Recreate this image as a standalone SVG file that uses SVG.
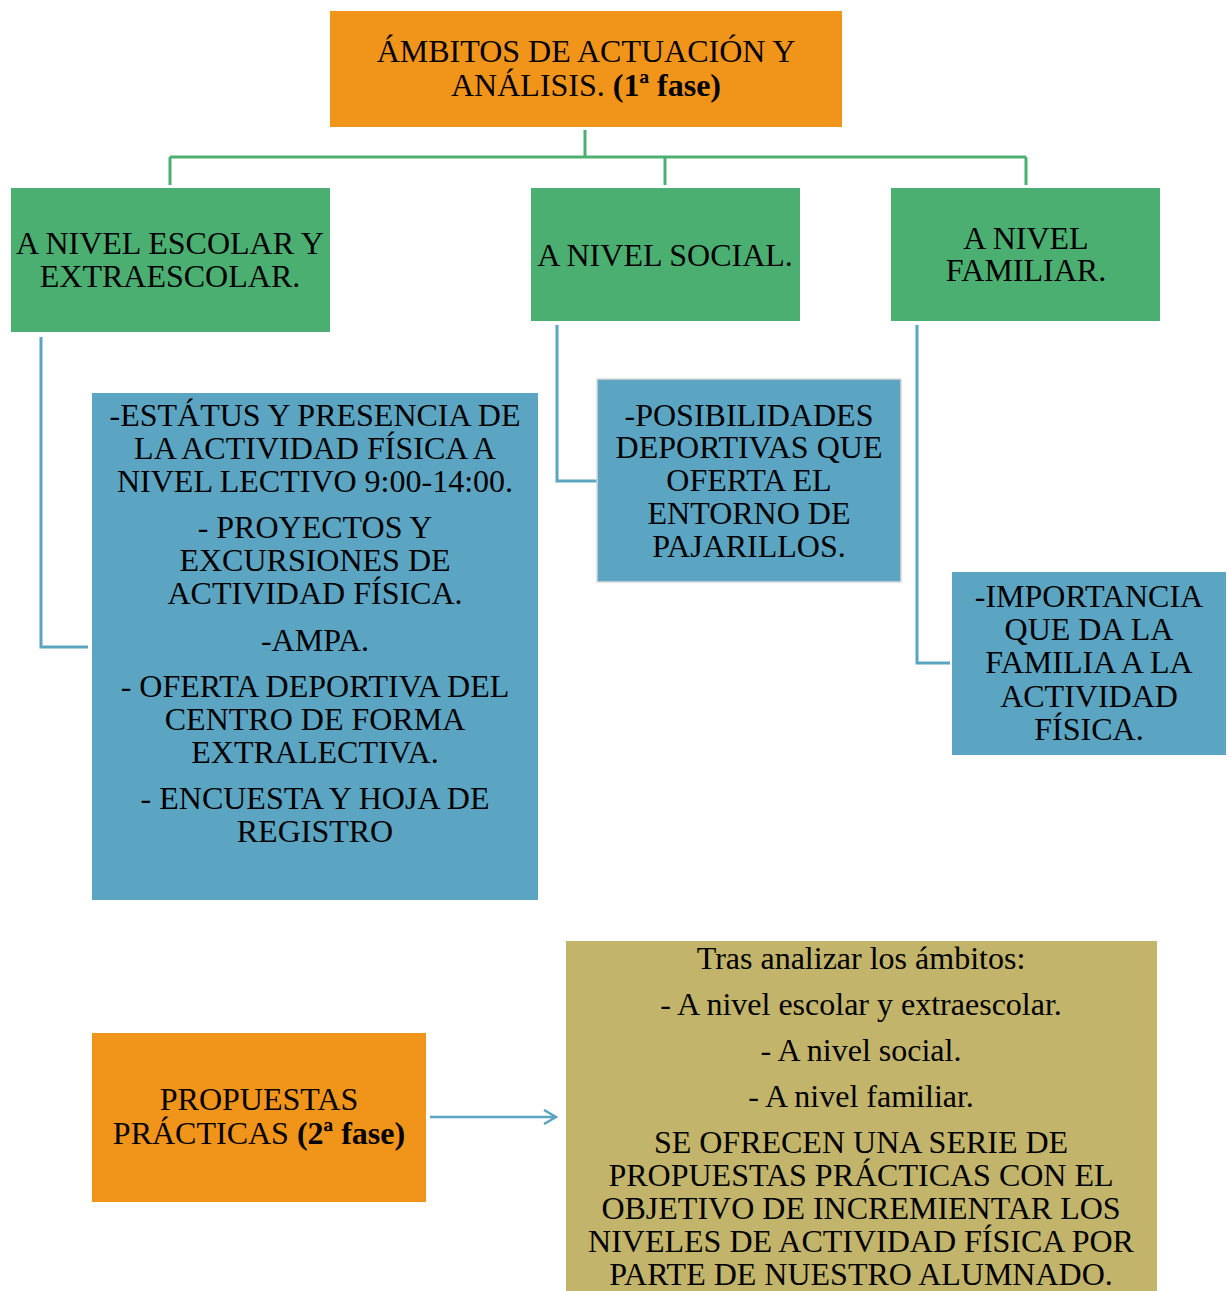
<svg xmlns="http://www.w3.org/2000/svg" width="1229" height="1291" viewBox="0 0 1229 1291">
<defs>
<style>
text{font-family:"Liberation Serif","Times New Roman",serif;font-size:32px;fill:#000;text-anchor:middle}
.b{font-weight:bold}
.orange{fill:#F0941A}
.green{fill:#4CAF72}
.blue{fill:#5BA5C2}
.gold{fill:#C2B46A}
.gl{stroke:#4CAF72;stroke-width:3;fill:none}
.bl{stroke:#5BA5C2;stroke-width:3;fill:none}
</style>
<marker id="arr" markerWidth="16" markerHeight="16" refX="14" refY="8" orient="auto" markerUnits="userSpaceOnUse">
<path d="M2,1 L14,8 L2,15" fill="none" stroke="#5BA5C2" stroke-width="2.5"/>
</marker>
</defs>
<rect width="1229" height="1291" fill="#fff"/>
<g id="connectors">
<path class="gl" d="M585,130 V157 M170,157 H1026 M170,157 V185 M665,157 V185 M1026,157 V185"/>
<path class="bl" d="M41,337 V647 H88"/>
<path class="bl" d="M557,325 V481 H597"/>
<path class="bl" d="M917,325 V663 H950"/>
<line x1="430" y1="1117" x2="556" y2="1117" stroke="#5BA5C2" stroke-width="2.5" marker-end="url(#arr)"/>
</g>
<g id="n-ambitos">
<rect class="orange" x="330" y="11" width="512" height="116"/>
<text x="586" y="62">ÁMBITOS DE ACTUACIÓN Y</text>
<text x="586" y="96">ANÁLISIS. <tspan class="b">(1ª fase)</tspan></text>
</g>
<g id="n-escolar">
<rect class="green" x="11" y="188" width="319" height="144"/>
<text x="170" y="254">A NIVEL ESCOLAR Y</text>
<text x="170" y="287">EXTRAESCOLAR.</text>
</g>
<g id="n-social">
<rect class="green" x="531" y="188" width="269" height="133"/>
<text x="665" y="266">A NIVEL SOCIAL.</text>
</g>
<g id="n-familiar">
<rect class="green" x="891" y="188" width="269" height="133"/>
<text x="1026" y="249">A NIVEL</text>
<text x="1026" y="281">FAMILIAR.</text>
</g>
<g id="n-escolar-det">
<rect class="blue" x="92" y="393" width="446" height="507"/>
<text x="315" y="426">-ESTÁTUS Y PRESENCIA DE</text>
<text x="315" y="459">LA ACTIVIDAD FÍSICA A</text>
<text x="315" y="492">NIVEL LECTIVO 9:00-14:00.</text>
<text x="315" y="538">- PROYECTOS Y</text>
<text x="315" y="571">EXCURSIONES DE</text>
<text x="315" y="604">ACTIVIDAD FÍSICA.</text>
<text x="315" y="651">-AMPA.</text>
<text x="315" y="697">- OFERTA DEPORTIVA DEL</text>
<text x="315" y="730">CENTRO DE FORMA</text>
<text x="315" y="763">EXTRALECTIVA.</text>
<text x="315" y="809">- ENCUESTA Y HOJA DE</text>
<text x="315" y="842">REGISTRO</text>
</g>
<g id="n-social-det">
<rect class="blue" x="597" y="379" width="304" height="203" stroke="#d8d8d8" stroke-width="1.5"/>
<text x="749" y="426">-POSIBILIDADES</text>
<text x="749" y="458">DEPORTIVAS QUE</text>
<text x="749" y="491">OFERTA EL</text>
<text x="749" y="524">ENTORNO DE</text>
<text x="749" y="557">PAJARILLOS.</text>
</g>
<g id="n-familiar-det">
<rect class="blue" x="952" y="572" width="274" height="183"/>
<text x="1089" y="607">-IMPORTANCIA</text>
<text x="1089" y="640">QUE DA LA</text>
<text x="1089" y="673">FAMILIA A LA</text>
<text x="1089" y="707">ACTIVIDAD</text>
<text x="1089" y="740">FÍSICA.</text>
</g>
<g id="n-propuestas">
<rect class="orange" x="92" y="1033" width="334" height="169"/>
<text x="259" y="1110">PROPUESTAS</text>
<text x="259" y="1144">PRÁCTICAS <tspan class="b">(2ª fase)</tspan></text>
</g>
<g id="n-tras">
<rect class="gold" x="566" y="941" width="591" height="350"/>
<text x="861" y="969">Tras analizar los ámbitos:</text>
<text x="861" y="1015">- A nivel escolar y extraescolar.</text>
<text x="861" y="1061">- A nivel social.</text>
<text x="861" y="1107">- A nivel familiar.</text>
<text x="861" y="1153">SE OFRECEN UNA SERIE DE</text>
<text x="861" y="1186">PROPUESTAS PRÁCTICAS CON EL</text>
<text x="861" y="1219">OBJETIVO DE INCREMIENTAR LOS</text>
<text x="861" y="1252">NIVELES DE ACTIVIDAD FÍSICA POR</text>
<text x="861" y="1285">PARTE DE NUESTRO ALUMNADO.</text>
</g>
</svg>
